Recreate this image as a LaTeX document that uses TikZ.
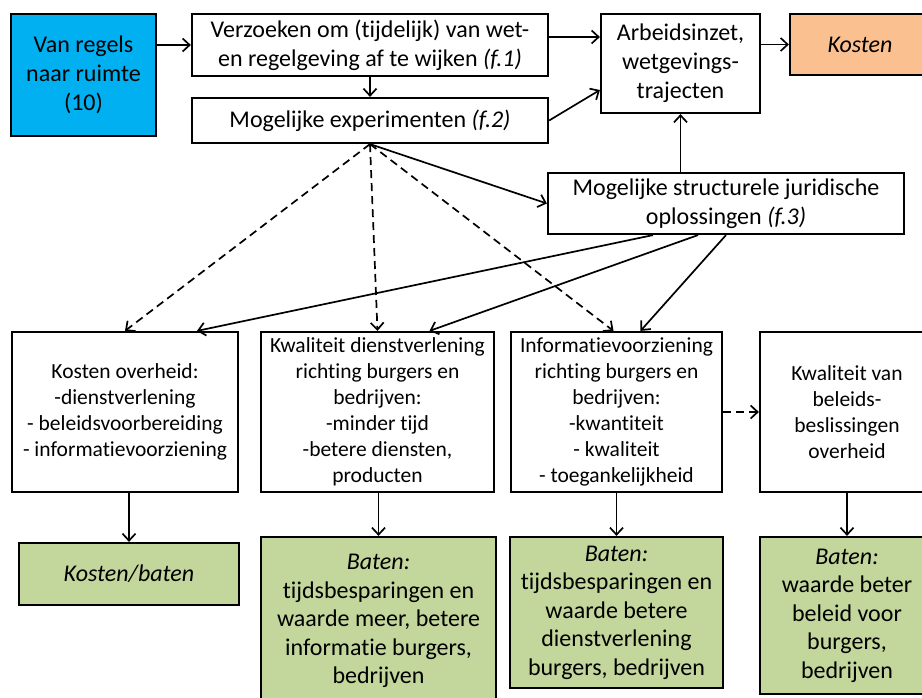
\documentclass[tikz,border=0pt]{standalone}
\usepackage{fontspec}
\setmainfont{Carlito}[Ligatures=CommonOff]
\usetikzlibrary{arrows.meta}

\definecolor{regelblue}{HTML}{00B0F0}
\definecolor{kostenorange}{HTML}{FAC090}
\definecolor{batengreen}{HTML}{C3D69B}

\begin{document}
\begin{tikzpicture}[x=1pt, y=-1pt,
  box/.style={draw, line width=2.2pt, align=center, inner sep=0pt,
    font=\fontsize{24}{29}\selectfont},
  effect/.style={box, font=\fontsize{21.5}{26}\selectfont},
  baten/.style={box, fill=batengreen, font=\fontsize{24}{28.5}\selectfont},
  pijl/.style={line width=1.7pt, -{Straight Barb[length=7pt,width=13pt,line width=1.7pt]}},
  stippel/.style={pijl, dash pattern=on 8pt off 5pt}]

  % Fix the frame of the picture
  \useasboundingbox (0,0) rectangle (922,698);

  % Top row
  \node[box, fill=regelblue, minimum width=145pt, minimum height=122pt] (regels) at (83.5,75)
    {Van regels\\naar ruimte\\(10)};
  \node[box, minimum width=356pt, minimum height=62pt] (verzoek) at (370,45)
    {Verzoeken om (tijdelijk) van wet-\\en regelgeving af te wijken \textit{(f.1)}};
  \node[box, minimum width=356pt, minimum height=45pt] (exper) at (370,120.5)
    {Mogelijke experimenten \textit{(f.2)}};
  \node[box, minimum width=159pt, minimum height=99pt] (arbeid) at (680.5,63.5)
    {Arbeidsinzet,\\wetgevings-\\trajecten};
  \node[box, fill=kostenorange, minimum width=140pt, minimum height=61pt] (kosten) at (860,44.5)
    {\textit{Kosten}};
  \node[box, minimum width=356pt, minimum height=61pt] (struct) at (726,203.5)
    {Mogelijke structurele juridische\\oplossingen \textit{(f.3)}};

  % Effects
  \node[effect, minimum width=226pt, minimum height=160pt] (overheid) at (125,412)
    {Kosten overheid:\\-dienstverlening\\- beleidsvoorbereiding\\- informatievoorziening};
  \node[effect, minimum width=233pt, minimum height=160pt] (dienst) at (377.5,412)
    {Kwaliteit dienstverlening\\richting burgers en\\bedrijven:\\-minder tijd\\-betere diensten,\\producten};
  \node[effect, minimum width=211pt, minimum height=160pt] (info) at (616.5,412)
    {Informatievoorziening\\richting burgers en\\bedrijven:\\-kwantiteit\\- kwaliteit\\- toegankelijkheid};
  \node[effect, minimum width=174pt, minimum height=160pt] (beleid) at (847,412)
    {Kwaliteit van\\beleids-\\beslissingen\\overheid};

  % Costs and benefits
  \node[baten, minimum width=220pt, minimum height=62pt] (kb) at (129,574)
    {\textit{Kosten/baten}};
  \node[baten, minimum width=235pt, minimum height=168pt] (baten1) at (378.5,621)
    {\textit{Baten:}\\tijdsbesparingen en\\waarde meer, betere\\informatie burgers,\\bedrijven};
  \node[baten, minimum width=213pt, minimum height=151pt] (baten2) at (616.5,612.5)
    {\textit{Baten:}\\tijdsbesparingen en\\waarde betere\\dienstverlening\\burgers, bedrijven};
  \node[baten, minimum width=174pt, minimum height=157pt] (baten3) at (847,615.5)
    {\textit{Baten:}\\waarde beter\\beleid voor\\burgers,\\bedrijven};

  % Arrows at the top
  \draw[pijl] (regels.east |- verzoek.west) -- (verzoek.west);
  \draw[pijl] (verzoek.south) -- (exper.north);
  \draw[pijl] ([yshift=8pt]verzoek.east) -- ([yshift=8pt]verzoek.east -| arbeid.west);
  \draw[pijl] (exper.east) -- ([yshift=-26.5pt]arbeid.west);
  \draw[pijl] (arbeid.east |- kosten.west) -- (kosten.west);
  \draw[pijl] (arbeid.south |- struct.north) -- (arbeid.south);
  \draw[pijl] (exper.south) -- (struct.west);

  % Dashed arrows from the experiments
  \draw[stippel] (exper.south) -- (overheid.north);
  \draw[stippel] (exper.south) -- (dienst.north);
  \draw[stippel] (exper.south) -- ([xshift=-3pt]info.north);
  \draw[stippel] (info.east) -- (info.east -| beleid.west);

  % Arrows from the structural solutions
  \draw[pijl] ([xshift=-73pt]struct.south) -- ([xshift=72pt]overheid.north);
  \draw[pijl] ([xshift=-28pt]struct.south) -- ([xshift=52pt]dienst.north);
  \draw[pijl] (struct.south) -- ([xshift=24pt]info.north);

  % Arrows down to the benefits
  \draw[pijl] (kb.north |- overheid.south) -- (kb.north);
  \draw[pijl] (baten1.north |- dienst.south) -- (baten1.north);
  \draw[pijl] (info.south) -- (baten2.north);
  \draw[pijl] (beleid.south) -- (baten3.north);

\end{tikzpicture}
\end{document}
